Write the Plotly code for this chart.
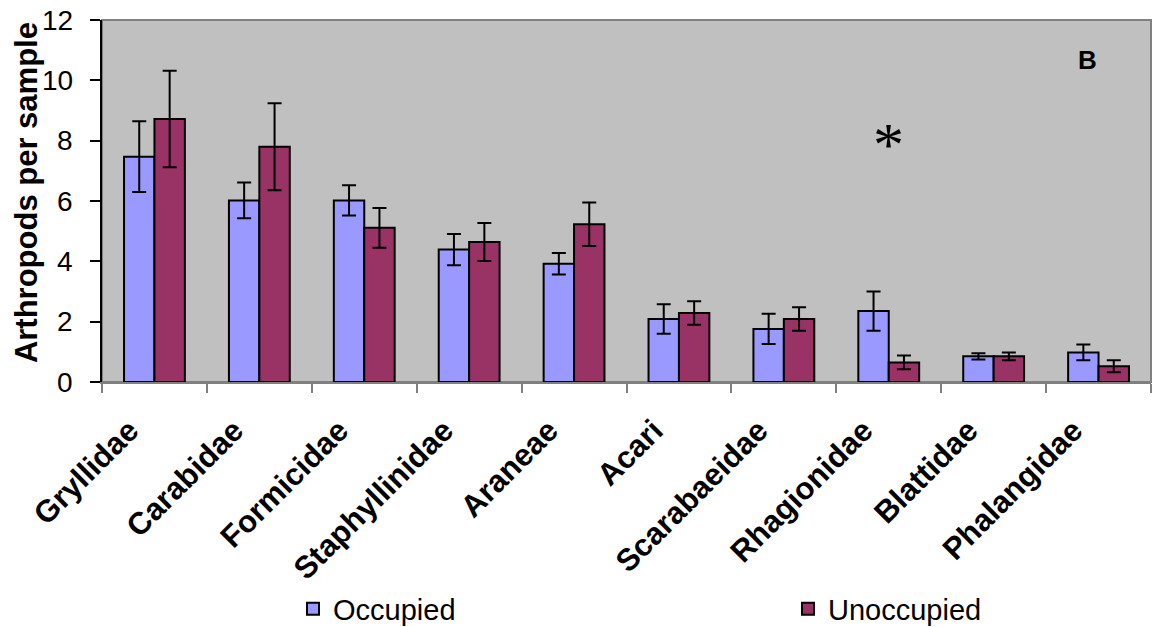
import plotly.graph_objects as go

families = ["Gryllidae", "Carabidae", "Formicidae", "Staphyllinidae", "Araneae",
            "Acari", "Scarabaeidae", "Rhagionidae", "Blattidae", "Phalangidae"]

occupied = [7.47, 6.02, 6.02, 4.39, 3.92, 2.09, 1.76, 2.35, 0.85, 0.98]
occupied_se = [1.17, 0.59, 0.50, 0.52, 0.36, 0.49, 0.50, 0.65, 0.10, 0.26]

unoccupied = [8.72, 7.80, 5.11, 4.64, 5.23, 2.29, 2.09, 0.65, 0.85, 0.52]
unoccupied_se = [1.60, 1.44, 0.66, 0.63, 0.72, 0.39, 0.39, 0.23, 0.13, 0.20]

y_ticks = [0, 2, 4, 6, 8, 10, 12]
y_title = "Arthropods per sample"

FONT = "Liberation Sans, Arial, sans-serif"

fig = go.Figure()
fig.add_trace(go.Bar(
    name="Occupied", x=families, y=occupied, legend="legend",
    marker=dict(color="#9999FF", line=dict(color="black", width=2)),
    error_y=dict(type="data", array=occupied_se, color="black", thickness=2, width=7),
))
fig.add_trace(go.Bar(
    name="Unoccupied", x=families, y=unoccupied, legend="legend2",
    marker=dict(color="#993366", line=dict(color="black", width=2)),
    error_y=dict(type="data", array=unoccupied_se, color="black", thickness=2, width=7),
))

# grey frame round the plotting area
fig.add_shape(type="rect", xref="paper", yref="paper", x0=0, x1=1, y0=0, y1=1,
              line=dict(color="#808080", width=2), layer="below")

# y-axis numbers, set a little further out from the tick marks
for v in y_ticks:
    fig.add_annotation(xref="paper", yref="y", x=0, y=v, text=str(v),
                       xanchor="right", yanchor="middle", xshift=-27,
                       showarrow=False, font=dict(family=FONT, size=28, color="black"))

# y-axis title
fig.add_annotation(xref="paper", yref="paper", x=(26 - 102) / 1050, y=0.522,
                   text=f"<b>{y_title}</b>", textangle=-90, showarrow=False,
                   xanchor="center", yanchor="middle",
                   font=dict(family=FONT, size=31, color="black"))

# significance marker and panel letter
fig.add_annotation(x="Rhagionidae", y=8.3, text="*", showarrow=False,
                   font=dict(family="Liberation Serif, serif", size=62, color="black"),
                   yshift=-12)
fig.add_annotation(xref="paper", yref="y", x=0.95, y=10.67, text="<b>B</b>",
                   showarrow=False, font=dict(family=FONT, size=26, color="black"))

legend_style = dict(
    orientation="h", xref="container", yref="container", yanchor="middle",
    font=dict(family=FONT, size=29, color="black"),
    itemsizing="constant", bgcolor="rgba(0,0,0,0)",
)

fig.update_layout(
    width=1153, height=627,
    margin=dict(l=102, r=2, t=20, b=245, autoexpand=False),
    paper_bgcolor="white",
    plot_bgcolor="#C0C0C0",
    barmode="group",
    bargap=0.42,
    bargroupgap=0,
    showlegend=True,
    legend=dict(x=293 / 1153, y=1 - 609 / 627, **legend_style),
    legend2=dict(x=788 / 1153, y=1 - 609 / 627, **legend_style),
    xaxis=dict(
        type="category",
        tickangle=-45,
        tickfont=dict(family=FONT, size=31, color="black", weight="bold"),
        showline=True, linecolor="#808080", linewidth=2,
        ticks="outside", tickson="boundaries", ticklen=9, tickcolor="#808080", tickwidth=1.5,
        showgrid=False, zeroline=False,
        ticklabelstandoff=16, ticklabelshift=-25,
    ),
    yaxis=dict(
        range=[0, 12],
        tickvals=y_ticks,
        showticklabels=False,
        showline=True, linecolor="black", linewidth=2,
        ticks="outside", ticklen=10, tickcolor="black", tickwidth=1.5,
        showgrid=False, zeroline=False,
    ),
)

fig.write_html("out.html")
